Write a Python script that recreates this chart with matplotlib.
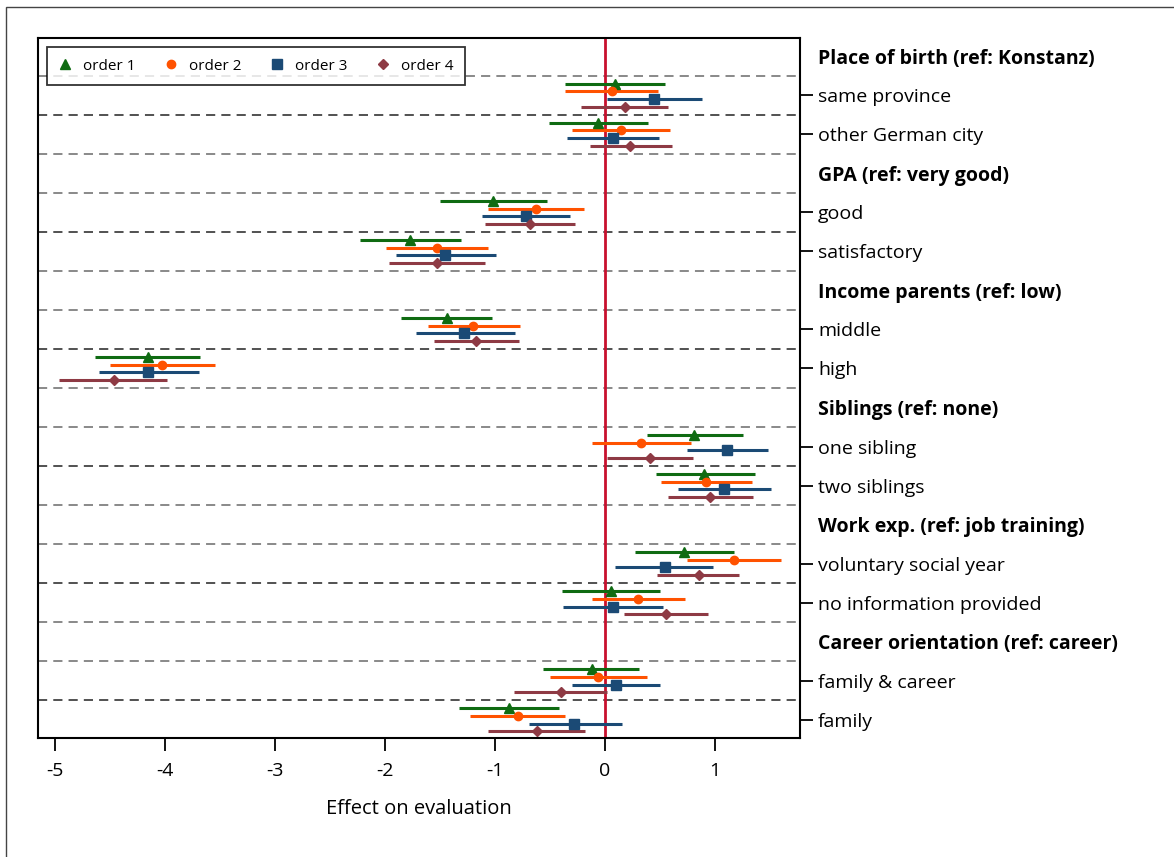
import matplotlib
matplotlib.use('Agg')
import matplotlib.pyplot as plt
from matplotlib.patches import Rectangle
import numpy as np

plt.rcParams['font.family'] = ['Open Sans', 'DejaVu Sans']

# rows of the plot, top to bottom (headers are bold, no estimates)
rows = ['Place of birth (ref: Konstanz)', 'same province', 'other German city',
        'GPA (ref: very good)', 'good', 'satisfactory',
        'Income parents (ref: low)', 'middle', 'high',
        'Siblings (ref: none)', 'one sibling', 'two siblings',
        'Work exp. (ref: job training)', 'voluntary social year', 'no information provided',
        'Career orientation (ref: career)', 'family & career', 'family']
headers = [0, 3, 6, 9, 12, 15]
nan = np.nan

# point estimates / lower / upper for each order (nan on header rows)
o1_est = [nan, 0.09, -0.06, nan, -1.02, -1.77, nan, -1.44, -4.15, nan, 0.81, 0.90, nan, 0.72, 0.05, nan, -0.12, -0.87]
o1_lo = [nan, -0.36, -0.51, nan, -1.50, -2.23, nan, -1.85, -4.63, nan, 0.38, 0.46, nan, 0.27, -0.39, nan, -0.56, -1.33]
o1_hi = [nan, 0.54, 0.39, nan, -0.53, -1.31, nan, -1.03, -3.68, nan, 1.25, 1.36, nan, 1.17, 0.50, nan, 0.31, -0.42]

o2_est = [nan, 0.06, 0.14, nan, -0.63, -1.53, nan, -1.20, -4.02, nan, 0.33, 0.92, nan, 1.17, 0.30, nan, -0.06, -0.79]
o2_lo = [nan, -0.36, -0.30, nan, -1.06, -1.99, nan, -1.61, -4.50, nan, -0.12, 0.51, nan, 0.74, -0.12, nan, -0.50, -1.23]
o2_hi = [nan, 0.48, 0.59, nan, -0.19, -1.06, nan, -0.77, -3.54, nan, 0.78, 1.33, nan, 1.60, 0.73, nan, 0.38, -0.36]

o3_est = [nan, 0.44, 0.07, nan, -0.72, -1.45, nan, -1.28, -4.15, nan, 1.11, 1.08, nan, 0.54, 0.07, nan, 0.10, -0.28]
o3_lo = [nan, 0.02, -0.35, nan, -1.12, -1.90, nan, -1.72, -4.60, nan, 0.74, 0.66, nan, 0.09, -0.38, nan, -0.30, -0.69]
o3_hi = [nan, 0.88, 0.49, nan, -0.32, -0.99, nan, -0.82, -3.69, nan, 1.48, 1.51, nan, 0.98, 0.53, nan, 0.50, 0.15]

o4_est = [nan, 0.18, 0.23, nan, -0.68, -1.53, nan, -1.17, -4.46, nan, 0.41, 0.95, nan, 0.85, 0.55, nan, -0.40, -0.62]
o4_lo = [nan, -0.22, -0.14, nan, -1.09, -1.96, nan, -1.55, -4.96, nan, 0.02, 0.57, nan, 0.47, 0.17, nan, -0.83, -1.06]
o4_hi = [nan, 0.57, 0.61, nan, -0.27, -1.09, nan, -0.78, -3.98, nan, 0.80, 1.34, nan, 1.22, 0.93, nan, 0.02, -0.18]

series = [
    ('order 1', o1_est, o1_lo, o1_hi, '#0f6b12', '^', -0.3),
    ('order 2', o2_est, o2_lo, o2_hi, '#ff5200', 'o', -0.1),
    ('order 3', o3_est, o3_lo, o3_hi, '#1b4a75', 's', 0.1),
    ('order 4', o4_est, o4_lo, o4_hi, '#8e3a44', 'D', 0.3),
]

fig = plt.figure(figsize=(11.74, 8.57), dpi=100)
ax = fig.add_axes([38 / 1174, 1 - 738 / 857, 762 / 1174, 700 / 857])

# outer frame (only left and top edge visible)
fig.patches.append(Rectangle((6 / 1174, -0.1), 1.2, 1 - 7 / 857 + 0.1,
                             transform=fig.transFigure, fill=False,
                             edgecolor='#444444', linewidth=1.0))

ypos = np.arange(len(rows))

# dashed separators between rows
for b in range(len(rows) - 1):
    dark = b in (1, 4, 7, 10, 13, 16)
    ax.axhline(b + 0.5, color='#222222' if dark else '#6a6a6a', linestyle=(0, (6, 4)),
               linewidth=1.1, zorder=1)

ax.axvline(0, color='#c8102e', linewidth=2.0, zorder=2)

for name, est, lo, hi, col, mk, off in series:
    est = np.array(est)
    lo = np.array(lo)
    hi = np.array(hi)
    y = ypos + off
    ax.hlines(y, lo, hi, color=col, linewidth=2.2, zorder=3)
    ms = 6.5 if mk in ('^', 's') else 6
    if mk == 'D':
        ms = 5
    ax.plot(est, y, linestyle='none', marker=mk, color=col, markersize=ms, zorder=4, label=name)

ax.set_xlim(-5.15, 1.77)
ax.set_ylim(17.47, -0.47)

ax.set_xticks([-5, -4, -3, -2, -1, 0, 1])
ax.set_xticklabels(['-5', '-4', '-3', '-2', '-1', '0', '1'], fontsize=14)
ax.tick_params(axis='x', direction='out', length=9, width=1.3, pad=8)
ax.set_xlabel('Effect on evaluation', fontsize=14.5, labelpad=14)

ax.yaxis.tick_right()
ax.set_yticks(ypos)
ax.set_yticklabels(rows, fontsize=14)
ax.tick_params(axis='y', direction='out', length=9, width=1.3, pad=4)
for i, (tick, lab) in enumerate(zip(ax.yaxis.get_major_ticks(), ax.get_yticklabels())):
    if i in headers:
        tick.tick2line.set_visible(False)
        lab.set_fontweight('bold')

for sp in ax.spines.values():
    sp.set_linewidth(1.5)
    sp.set_color('black')

leg = ax.legend(loc='upper left', ncol=4, fontsize=11, frameon=True, fancybox=False,
                edgecolor='black', handlelength=0.8, handletextpad=0.8, columnspacing=1.9,
                borderpad=0.75, bbox_to_anchor=(0.0, 1.0), borderaxespad=0.6)
leg.get_frame().set_linewidth(1.3)

fig.savefig('out.png', dpi=100)
